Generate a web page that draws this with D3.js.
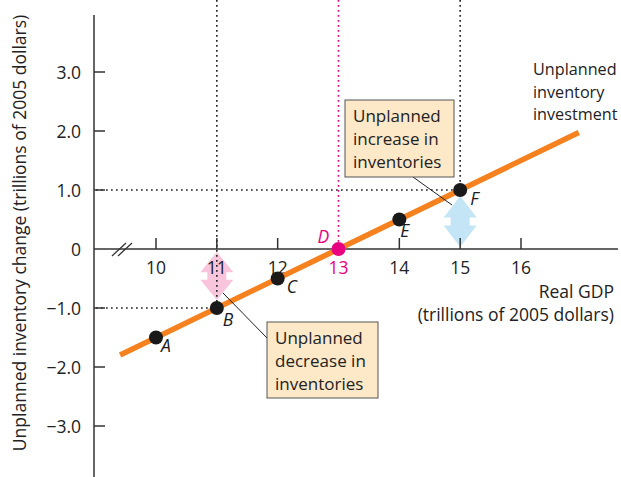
<!DOCTYPE html>
<html><head><meta charset="utf-8">
<script src="https://cdn.jsdelivr.net/npm/d3@7"></script>
<style>body{margin:0;background:#fff}svg{display:block}text{font-family:"Open Sans",sans-serif}</style>
</head><body>
<script>
const pointNames = ["A","B","C","D","E","F"];
const gdpValues = [10,11,12,13,14,15];
const inventoryChange = [-1.5,-1.0,-0.5,0,0.5,1.0];
const lineGdp = [9.41, 16.95];
const xTicks = [10,11,12,13,14,15,16];
const xTickLabels = ["10","11","12","13","14","15","16"];
const yTicks = [-3,-2,-1,0,1,2,3];
const yTickLabels = ["−3.0","−2.0","−1.0","0","1.0","2.0","3.0"];

const W=621,H=477;
const svg=d3.select("body").append("svg").attr("width",W).attr("height",H);
const x=d3.scaleLinear().domain([10,16]).range([156,521]);
const y=d3.scaleLinear().domain([0,3]).range([249,72]);
const slope=(g)=>0.5*(g-13);
const ink="#333";
const pink="#e8007f";
const FS=17.5;

// dotted guides
const dot="1.7,3.3";
svg.append("line").attr("x1",96).attr("x2",x(15)).attr("y1",y(1)).attr("y2",y(1)).attr("stroke","#222").attr("stroke-width",1.6).attr("stroke-dasharray",dot);
svg.append("line").attr("x1",96).attr("x2",x(11)).attr("y1",y(-1)).attr("y2",y(-1)).attr("stroke","#222").attr("stroke-width",1.6).attr("stroke-dasharray",dot);

// arrows (double-headed)
function dArrow(cx,y0,y1,fill){
  const hw=16.5, sw=9.5, hh=(y1-y0)*0.42;
  const p=[[cx,y0],[cx+hw,y0+hh],[cx+sw,y0+hh],[cx+sw,y1-hh],[cx+hw,y1-hh],[cx,y1],[cx-hw,y1-hh],[cx-sw,y1-hh],[cx-sw,y0+hh],[cx-hw,y0+hh]];
  svg.append("path").attr("d",d3.line()(p)+"Z").attr("fill",fill);
}
dArrow(x(11),252,300,"#f8c5dc");
dArrow(x(15),196,247,"#c3e5f6");

svg.append("line").attr("x1",x(11)).attr("x2",x(11)).attr("y1",0).attr("y2",y(-1)).attr("stroke","#222").attr("stroke-width",1.6).attr("stroke-dasharray",dot);
svg.append("line").attr("x1",x(15)).attr("x2",x(15)).attr("y1",0).attr("y2",y(1)).attr("stroke","#222").attr("stroke-width",1.6).attr("stroke-dasharray",dot);
svg.append("line").attr("x1",x(13)).attr("x2",x(13)).attr("y1",0).attr("y2",y(0)).attr("stroke",pink).attr("stroke-width",1.6).attr("stroke-dasharray",dot);

// axes
svg.append("line").attr("x1",94).attr("x2",94).attr("y1",15).attr("y2",477).attr("stroke",ink).attr("stroke-width",1.5);
svg.append("line").attr("x1",94).attr("x2",618).attr("y1",y(0)).attr("y2",y(0)).attr("stroke",ink).attr("stroke-width",1.5);
// y ticks
yTicks.forEach((t,i)=>{
  if(t!==0) svg.append("line").attr("x1",94).attr("x2",105).attr("y1",y(t)).attr("y2",y(t)).attr("stroke",ink).attr("stroke-width",1.5);
  svg.append("text").attr("x",81).attr("y",y(t)+6.5).attr("text-anchor","end").attr("font-size",FS).attr("fill","#222").text(yTickLabels[i]);
});
// x ticks
xTicks.forEach((t,i)=>{
  if(t!==13) svg.append("line").attr("x1",x(t)).attr("x2",x(t)).attr("y1",y(0)-11).attr("y2",y(0)).attr("stroke",ink).attr("stroke-width",1.5);
  svg.append("text").attr("x",x(t)).attr("y",y(0)+25).attr("text-anchor","middle").attr("font-size",FS).attr("fill",t===13?pink:"#222").text(xTickLabels[i]);
});
// break marks
[0,6].forEach(o=>svg.append("line").attr("x1",112+o).attr("x2",126+o).attr("y1",256).attr("y2",243).attr("stroke",ink).attr("stroke-width",1.3));

// axis titles
svg.append("text").attr("transform","translate(26,233) rotate(-90)").attr("text-anchor","middle").attr("font-size",FS).attr("fill","#222").text("Unplanned inventory change (trillions of 2005 dollars)");
svg.append("text").attr("x",614).attr("y",298).attr("text-anchor","end").attr("font-size",FS).attr("fill","#222").text("Real GDP");
svg.append("text").attr("x",614).attr("y",321).attr("text-anchor","end").attr("font-size",FS).attr("fill","#222").text("(trillions of 2005 dollars)");

// orange line
svg.append("path").attr("d",d3.line()(lineGdp.map(g=>[x(g),y(slope(g))]))).attr("stroke","#f5821f").attr("stroke-width",5.5).attr("fill","none");

// line label
["Unplanned","inventory","investment"].forEach((s,i)=>svg.append("text").attr("x",533).attr("y",75+i*22.5).attr("font-size",16.2).attr("fill","#222").text(s));

// callout boxes
function box(x0,y0,w,h,lines){
  svg.append("rect").attr("x",x0).attr("y",y0).attr("width",w).attr("height",h).attr("fill","#fde8c8").attr("stroke","#555").attr("stroke-width",1);
  lines.forEach((s,i)=>svg.append("text").attr("x",x0+8).attr("y",y0+22+i*23).attr("font-size",17).attr("fill","#222").text(s));
}
svg.append("line").attr("x1",413).attr("y1",177).attr("x2",452).attr("y2",205).attr("stroke","#222").attr("stroke-width",1);
svg.append("line").attr("x1",223).attr("y1",293).attr("x2",267).attr("y2",338).attr("stroke","#222").attr("stroke-width",1);
box(345,100,109,77,["Unplanned","increase in","inventories"]);
box(267,322,111,76,["Unplanned","decrease in","inventories"]);

// points
const labelOff={A:[5,14],B:[6,18],C:[9,14],D:[-21,-6],E:[1,17],F:[10,15]};
pointNames.forEach((n,i)=>{
  const px=x(gdpValues[i]),py=y(inventoryChange[i]);
  const c=n==="D"?pink:"#1a1a1a";
  svg.append("circle").attr("cx",px).attr("cy",py).attr("r",7).attr("fill",c);
  svg.append("text").attr("x",px+labelOff[n][0]).attr("y",py+labelOff[n][1]).attr("font-size",FS).attr("font-style","italic").attr("fill",c).text(n);
});
</script>
</body></html>
